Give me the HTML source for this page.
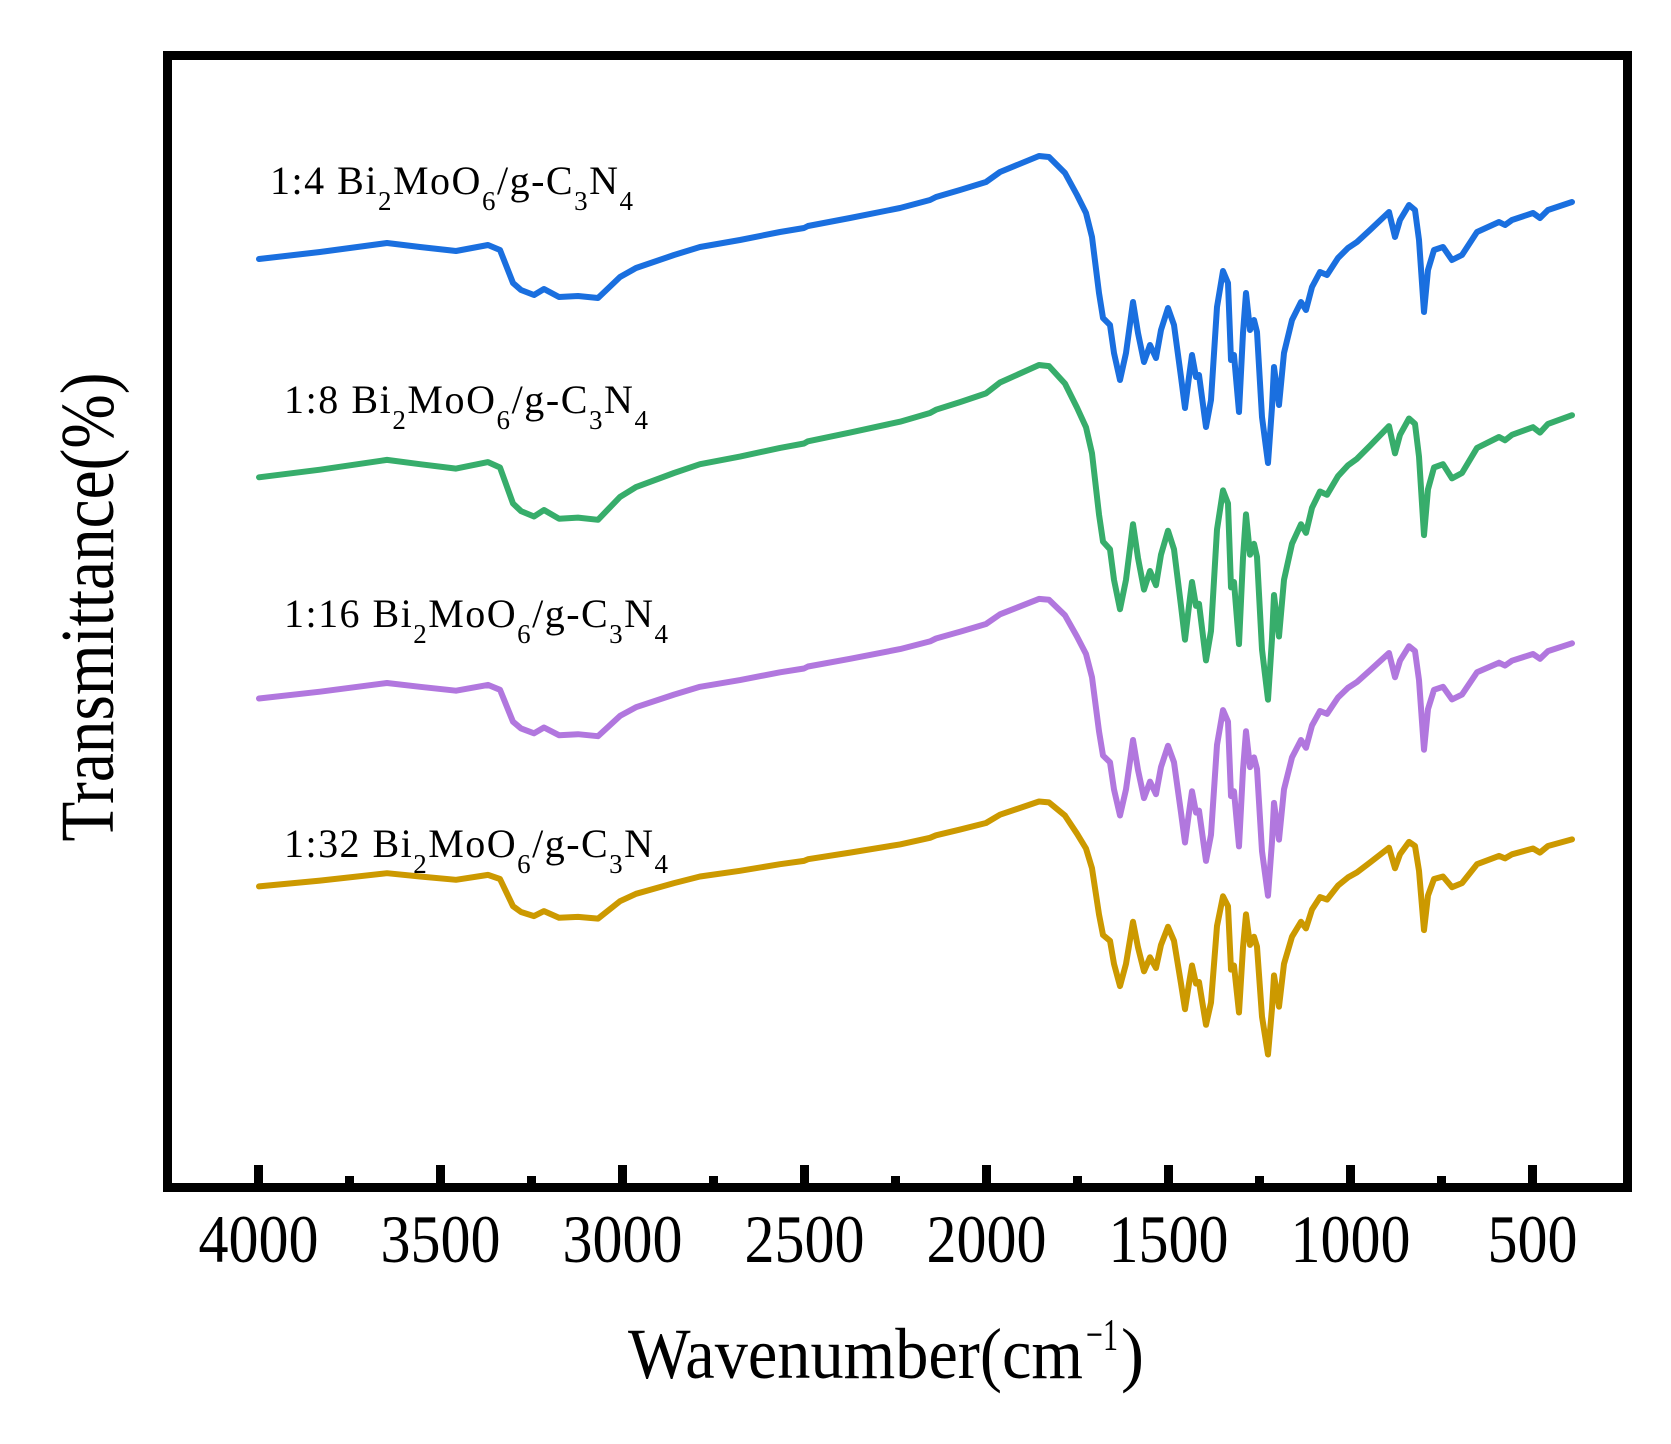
<!DOCTYPE html>
<html><head><meta charset="utf-8"><style>html,body{margin:0;padding:0;background:#fff}svg{display:block}</style></head>
<body>
<svg id="s" width="1671" height="1444" viewBox="0 0 1671 1444" xmlns="http://www.w3.org/2000/svg" font-family="'Liberation Serif', serif">
<rect x="167.5" y="55.5" width="1460" height="1132" fill="none" stroke="#000" stroke-width="9"/>
<g id="ticks" stroke="#000" stroke-width="9"></g>
<g id="curves" fill="none" stroke-width="6" stroke-linejoin="round" stroke-linecap="round"></g>
<g font-size="40" fill="#000">
<text x="270" y="194" textLength="363" lengthAdjust="spacing">1:4 Bi<tspan font-size="27" dy="16">2</tspan><tspan dy="-16">MoO</tspan><tspan font-size="27" dy="16">6</tspan><tspan dy="-16">/g-C</tspan><tspan font-size="27" dy="16">3</tspan><tspan dy="-16">N</tspan><tspan font-size="27" dy="16">4</tspan></text>
<text x="284" y="413" textLength="364" lengthAdjust="spacing">1:8 Bi<tspan font-size="27" dy="16">2</tspan><tspan dy="-16">MoO</tspan><tspan font-size="27" dy="16">6</tspan><tspan dy="-16">/g-C</tspan><tspan font-size="27" dy="16">3</tspan><tspan dy="-16">N</tspan><tspan font-size="27" dy="16">4</tspan></text>
<text x="284" y="627" textLength="384" lengthAdjust="spacing">1:16 Bi<tspan font-size="27" dy="16">2</tspan><tspan dy="-16">MoO</tspan><tspan font-size="27" dy="16">6</tspan><tspan dy="-16">/g-C</tspan><tspan font-size="27" dy="16">3</tspan><tspan dy="-16">N</tspan><tspan font-size="27" dy="16">4</tspan></text>
<text x="284" y="857" textLength="384" lengthAdjust="spacing">1:32 Bi<tspan font-size="27" dy="16">2</tspan><tspan dy="-16">MoO</tspan><tspan font-size="27" dy="16">6</tspan><tspan dy="-16">/g-C</tspan><tspan font-size="27" dy="16">3</tspan><tspan dy="-16">N</tspan><tspan font-size="27" dy="16">4</tspan></text>
</g>
<g id="tl" font-size="68" text-anchor="middle"></g>
<text x="628" y="1378" font-size="72" textLength="455" lengthAdjust="spacingAndGlyphs">Wavenumber(cm</text>
<text x="1086" y="1350" font-size="46" textLength="32" lengthAdjust="spacingAndGlyphs">−1</text>
<text x="1121" y="1378" font-size="72" textLength="23" lengthAdjust="spacingAndGlyphs">)</text>
<text transform="translate(113,607) rotate(-90)" font-size="76" text-anchor="middle" textLength="469" lengthAdjust="spacingAndGlyphs">Transmittance(%)</text>
</svg>
<script>
var NS="http://www.w3.org/2000/svg";
var ticks=document.getElementById('ticks'),tl=document.getElementById('tl');
function X(w){return 258.5+(4000-w)*0.364;}
for(var w=4000;w>=500;w-=250){var x=X(w);var l=document.createElementNS(NS,'line');
var major=(w%500===0);l.setAttribute('x1',x);l.setAttribute('x2',x);l.setAttribute('y1',1183);l.setAttribute('y2',major?1165:1176);ticks.appendChild(l);
if(major){var t=document.createElementNS(NS,'text');t.setAttribute('x',x);t.setAttribute('y',1262);t.setAttribute('textLength',w>=1000?120:90);t.setAttribute('lengthAdjust','spacingAndGlyphs');t.textContent=w;tl.appendChild(t);}}
var B=[[259,259],[320,252],[387,243],[420,247],[456,251],[488,245],[500,250],[513,283],[521,290],[534,295],[544,289],[559,297],[578,296],[598,298],[620,277],[636,268],[674,255],[700,247],[740,240],[780,232],[804,228],[808,226],[850,218],[900,208],[930,200],[936,197],[960,190],[986,182],[1000,172],[1039,156],[1049,157],[1065,173],[1077,195],[1086,213],[1092,237],[1099,293],[1103,318],[1110,325],[1114,353],[1120,380],[1126,353],[1133,302],[1138,333],[1144,362],[1150,345],[1156,358],[1161,330],[1168,308],[1174,325],[1181,377],[1185,408],[1189,377],[1192,355],[1196,377],[1199,375],[1206,427],[1211,400],[1217,307],[1223,271],[1228,283],[1231,360],[1234,355],[1239,412],[1243,333],[1246,293],[1250,330],[1254,320],[1257,332],[1262,417],[1268,463],[1272,407],[1274,367],[1279,405],[1284,353],[1292,320],[1301,302],[1306,310],[1312,287],[1320,272],[1327,275],[1338,258],[1348,248],[1357,242],[1370,230],[1389,212],[1395,237],[1400,220],[1409,205],[1415,210],[1419,240],[1424,312],[1428,270],[1434,250],[1443,247],[1452,260],[1462,255],[1477,232],[1499,222],[1505,225],[1512,220],[1533,213],[1540,218],[1548,210],[1572,202]];
var S=[['#1a6fdf',0,1],['#37ad6b',195,1.09],['#b177de',448,0.967],['#cc9900',673,0.824]];
var g=document.getElementById('curves');
S.forEach(function(s){var p=document.createElementNS(NS,'polyline');
p.setAttribute('points',B.map(function(q){return q[0]+','+(s[1]+s[2]*q[1]).toFixed(1);}).join(' '));
p.setAttribute('stroke',s[0]);g.appendChild(p);});
</script>
</body></html>
